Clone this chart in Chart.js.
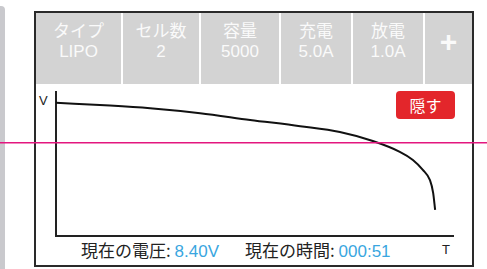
<!DOCTYPE html>
<html>
<head>
<meta charset="utf-8">
<script src="https://cdn.jsdelivr.net/npm/chart.js@4"></script>
<style>
  html, body { margin: 0; padding: 0; background: #fff; }
  body { width: 487px; height: 269px; position: relative; overflow: hidden;
         font-family: "Liberation Sans", Arial, "Noto Sans CJK JP", sans-serif; }
  #side { position: absolute; left: 0; top: 6px; width: 5px; height: 270px; background: #c9c9cd;
          border-top-right-radius: 4px; }
  #panel { position: absolute; left: 34px; top: 11px; width: 436px; height: 252px;
           border: 2px solid #2a2a2a; }
  #head { position: absolute; left: 0; top: 0; width: 436px; height: 71px; background: #d3d3d3;
          display: flex; }
  .cell { height: 71px; color: #fafafa; text-align: center; font-size: 17px; line-height: 20px;
          padding-top: 9px; box-sizing: border-box; border-right: 2px solid #fff; }
  .cell:last-child { border-right: none; }
  .plus { font-size: 30px; font-weight: bold; line-height: 30px; padding-top: 14px; }
  #btn { position: absolute; left: 396px; top: 91px; width: 59px; height: 28px; background: #e3262b;
         border-radius: 4px; color: #fff; font-size: 16px; line-height: 28px; text-align: center;
         font-family: "Noto Sans CJK JP", sans-serif; }
  .ax { position: absolute; font-size: 13px; color: #222; }
  .info { position: absolute; top: 239px; font-size: 17px; color: #222; white-space: pre;
          font-family: "Noto Sans CJK JP", sans-serif; line-height: 22px; }
  .info span { color: #3aa6e0; font-family: "Liberation Sans", Arial, sans-serif; }
  #wrap { position: absolute; left: 0; top: 85px; width: 487px; height: 160px; }
</style>
</head>
<body>
<div id="side"></div>
<div id="panel">
  <div id="head"></div>
</div>
<div id="btn">隠す</div>
<div class="ax" style="left:39px; top:93px;">V</div>
<div class="ax" style="left:442px; top:242px;">T</div>
<div class="info" style="left:81px;">現在の電圧: <span>8.40V</span></div>
<div class="info" style="left:245px;">現在の時間: <span>000:51</span></div>
<div id="wrap"><canvas id="chart"></canvas></div>
<script>
// Header cells
var headTitles = ['タイプ', 'セル数', '容量', '充電', '放電'];
var headValues = ['LIPO', '2', '5000', '5.0A', '1.0A'];
var cellWidths = [87, 78, 80, 72, 72, 47];

// Discharge curve (time %, volts)
var timeValues = [0, 13.6, 23.7, 36.3, 48.9, 61.5, 71.5, 79.8, 86.6, 89.9, 92.4, 94.2, 95.0, 95.5];
var voltValues = [8.36, 8.30, 8.24, 8.13, 7.98, 7.84, 7.71, 7.51, 7.27, 7.09, 6.87, 6.64, 6.36, 5.98];
var cutoffVolt = 7.47;

var head = document.getElementById('head');
headTitles.forEach(function (t, i) {
    var d = document.createElement('div');
    d.className = 'cell';
    d.style.width = cellWidths[i] + 'px';
    d.innerHTML = t + '<br>' + headValues[i];
    head.appendChild(d);
});
var p = document.createElement('div');
p.className = 'cell plus';
p.style.width = cellWidths[5] + 'px';
p.textContent = '+';
head.appendChild(p);

// Pink cutoff line across the whole width
var cutoffLine = {
    id: 'cutoffLine',
    afterDraw: function (chart) {
        var y = chart.scales.y.getPixelForValue(cutoffVolt);
        var ctx = chart.ctx;
        ctx.save();
        ctx.strokeStyle = '#e3167f';
        ctx.lineWidth = 1.5;
        ctx.beginPath();
        ctx.moveTo(0, y);
        ctx.lineTo(chart.width, y);
        ctx.stroke();
        ctx.restore();
    }
};

new Chart(document.getElementById('chart'), {
    type: 'line',
    data: {
        datasets: [{
            data: timeValues.map(function (t, i) { return { x: t, y: voltValues[i] }; }),
            borderColor: '#111',
            borderWidth: 2,
            pointRadius: 0,
            cubicInterpolationMode: 'monotone',
            fill: false,
        }]
    },
    options: {
        responsive: true,
        maintainAspectRatio: false,
        animation: false,
        layout: { padding: { left: 56, right: 34, top: 7, bottom: 9 } },
        plugins: { legend: { display: false }, tooltip: { enabled: false } },
        scales: {
            x: {
                type: 'linear', min: 0, max: 100,
                grid: { display: false, drawTicks: false },
                ticks: { display: false },
                border: { display: true, color: '#222', width: 2 },
            },
            y: {
                min: 5.4, max: 8.6,
                grid: { display: false, drawTicks: false },
                ticks: { display: false },
                border: { display: true, color: '#222', width: 2 },
            },
        },
    },
    plugins: [cutoffLine],
});
</script>
</body>
</html>
